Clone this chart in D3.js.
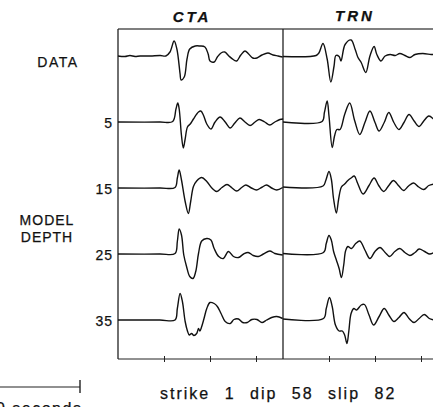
<!DOCTYPE html>
<html>
<head>
<meta charset="utf-8">
<script src="https://cdn.jsdelivr.net/npm/d3@7"></script>
<style>
  body { margin: 0; background: #fff; }
  svg { display: block; }
  text { font-family: "Liberation Sans", Arial, Helvetica, sans-serif; fill: #111; stroke: #111; stroke-width: 0.25px; }
</style>
</head>
<body>
<div id="chart"></div>
<script>
// rows and stations
var rowLabels = ["DATA", "5", "15", "25", "35"];
var stations = ["CTA", "TRN"];
var tickTimes = [5, 10, 15];   // seconds
var barSeconds = 10;

// traces: [time (s), amplitude]
var ctaData = [[0,0],[0.76,-0.05],[1.3,0.05],[1.85,-0.05],[2.4,0],[3.5,0],[4.6,0.05],[5.2,0],[5.65,0.4],[6.1,1.5],[6.4,0.7],[6.75,-1.8],[6.85,-2.4],[7.2,-2.1],[7.5,-0.3],[7.8,0.7],[8.4,1.0],[8.9,1.0],[9.45,0.9],[9.8,0.2],[10.0,-0.5],[10.45,-0.6],[10.8,-0.1],[11.2,0.3],[11.6,0.4],[12.05,0],[12.6,-0.4],[12.9,-0.5],[13.35,0.1],[13.8,0.5],[14.2,0.2],[14.65,-0.2],[15.1,-0.2],[15.65,0.1],[16.3,0.3],[16.85,0.1],[17.4,0],[17.9,-0.1]];
var cta5 = [[0,0],[4.55,0],[5.95,0.05],[6.3,1.3],[6.5,1.9],[6.65,1.3],[6.9,-1.35],[7.1,-2.6],[7.3,-1.7],[7.55,-0.5],[7.85,-0.2],[8.2,0.3],[8.75,1.0],[9.0,1.1],[9.3,0.65],[9.65,-0.2],[10.1,-0.7],[10.55,0],[11.1,0.5],[11.65,0],[12.2,-0.6],[12.7,-0.1],[13.25,0.4],[13.8,0],[14.35,-0.35],[14.9,0],[15.35,0.25],[15.95,0],[16.5,-0.3],[17.05,0],[17.6,0.25],[17.95,0.3]];
var cta15 = [[0,0],[4.55,0],[6.2,0.05],[6.45,1.0],[6.65,1.8],[6.9,0.8],[7.3,-1.35],[7.65,-2.55],[7.9,-1.35],[8.2,0.15],[8.55,0.7],[9.1,1.05],[9.65,0.65],[10.2,0],[10.75,-0.35],[11.3,0.05],[11.85,0.35],[12.4,0],[12.9,-0.3],[13.45,0.05],[13.9,0.3],[14.5,0],[15.05,-0.2],[15.6,0.05],[16.15,0.3],[16.7,0],[17.25,-0.2],[17.9,0.05]];
var cta25 = [[0,0],[4.55,0],[6.2,0.05],[6.45,1.25],[6.65,2.5],[6.9,1.9],[7.15,-0.1],[7.45,-1.25],[7.8,-2.25],[8.15,-2.45],[8.45,-1.75],[8.75,0.05],[9.1,1.3],[9.65,1.55],[10.1,1.4],[10.45,0.55],[10.95,-0.25],[11.45,-0.45],[12.0,0.25],[12.55,-0.25],[13.1,-0.35],[13.65,0],[14.15,0.15],[14.7,-0.15],[15.25,-0.25],[15.8,0],[16.5,0.3],[17.05,0.05],[17.9,-0.1]];
var cta35 = [[0,0],[4.55,0],[6.2,0],[6.45,1.15],[6.75,2.65],[7.0,1.85],[7.3,-0.15],[7.55,-1.1],[7.75,-1.5],[8.0,-1.35],[8.25,-1.55],[8.55,-1.35],[8.75,-0.85],[8.9,-1.1],[9.1,-0.65],[9.35,0.15],[9.65,1.15],[10.0,1.75],[10.45,1.65],[10.8,1.35],[11.2,0.65],[11.65,-0.15],[12.2,-0.35],[12.6,0.05],[13.1,0.1],[13.55,-0.25],[14.05,-0.25],[14.55,0.05],[15.1,0.05],[15.65,-0.25],[16.15,0],[16.7,0.25],[17.25,0.35],[17.9,0.15]];

var trnData = [[0,-0.05],[3.6,0.05],[3.9,0.3],[4.35,1.25],[4.8,-0.3],[5.2,-2.6],[5.55,-1.0],[5.75,0.05],[6.1,-0.05],[6.3,-0.5],[6.75,1.15],[7.4,1.6],[7.85,0.65],[8.15,-0.15],[8.5,-0.65],[9.0,-1.65],[9.45,0],[9.9,0.95],[10.2,0.15],[10.65,-0.5],[11.1,0],[11.65,0.15],[12.2,0.05],[12.7,0.25],[13.25,0.05],[13.8,-0.15],[14.35,0.15],[15.2,0.25],[16.1,0.15],[16.4,0.15]];
var trn5 = [[0,0],[4.25,0.05],[4.5,0.95],[4.8,2.1],[5.0,0.6],[5.35,-2.55],[5.6,-1.4],[5.85,-0.75],[6.2,-0.75],[6.7,0.75],[7.25,1.9],[7.8,0.1],[8.35,-1.25],[8.9,-0.05],[9.45,1.1],[10.0,-0.05],[10.45,-0.9],[11.0,-0.05],[11.5,0.95],[12.05,-0.05],[12.6,-0.75],[13.15,-0.05],[13.7,0.75],[14.25,0.1],[14.8,-0.45],[15.3,0.1],[15.85,0.6],[16.4,0.25]];
var trn15 = [[0,0.1],[4.35,0.2],[4.65,0.75],[5.0,1.65],[5.25,0.9],[5.5,-1.1],[5.8,-2.5],[6.05,-1.1],[6.35,0.1],[6.7,0.4],[7.05,0.75],[7.4,1.0],[7.75,1.2],[8.1,0.5],[8.7,-0.6],[9.35,0.25],[9.9,1.0],[10.4,0.25],[10.95,-0.35],[11.5,0.25],[12.0,0.75],[12.6,0.2],[13.1,-0.25],[13.65,0.2],[14.2,0.5],[14.75,0.1],[15.3,-0.15],[15.85,0.25],[16.4,0.4]];
var trn25 = [[0,0.05],[4.4,0.15],[4.7,1.05],[5.0,1.85],[5.25,1.4],[5.5,0.25],[5.8,-0.6],[6.1,-1.45],[6.35,-2.35],[6.6,-1.1],[6.8,0.3],[7.05,0.75],[7.45,0.55],[7.9,1.05],[8.35,1.3],[8.9,0.4],[9.45,-0.45],[10.0,0.25],[10.55,0.65],[11.1,0.15],[11.6,-0.25],[12.15,0.25],[12.7,0.55],[13.25,0.15],[13.8,-0.15],[14.35,0.15],[14.8,0.5],[15.4,0.25],[15.95,0],[16.4,0.15]];
var trn35 = [[0,0.1],[4.4,0.15],[4.7,1.15],[5.05,2.25],[5.35,1.35],[5.7,-0.5],[6.1,-1.1],[6.45,-1.1],[6.7,-1.5],[6.95,-2.35],[7.15,-1.15],[7.4,0.65],[7.7,1.15],[8.0,1.0],[8.5,1.5],[8.85,1.55],[9.35,0.5],[9.85,-0.5],[10.45,0.35],[11.0,1.15],[11.5,0.5],[12.05,-0.15],[12.6,0.25],[13.15,0.75],[13.7,0.15],[14.25,-0.25],[14.8,0.15],[15.35,0.55],[15.9,0.15],[16.4,0]];

var traceTable = [
    {station: "CTA", row: "DATA", values: ctaData},
    {station: "CTA", row: "5", values: cta5},
    {station: "CTA", row: "15", values: cta15},
    {station: "CTA", row: "25", values: cta25},
    {station: "CTA", row: "35", values: cta35},
    {station: "TRN", row: "DATA", values: trnData},
    {station: "TRN", row: "5", values: trn5},
    {station: "TRN", row: "15", values: trn15},
    {station: "TRN", row: "25", values: trn25},
    {station: "TRN", row: "35", values: trn35}
];

function init() {
    var width = 433, height = 407;
    var frame = {left: 118, mid: 283, right: 448, top: 29, bottom: 359};
    var pxPerSec = 9.2;
    var span = (frame.mid - frame.left) / pxPerSec;

    var svg = d3.select("#chart")
        .append("svg")
        .attr("width", width)
        .attr("height", height);

    var xScales = {
        CTA: d3.scaleLinear().domain([0, span]).range([frame.left, frame.mid]),
        TRN: d3.scaleLinear().domain([0, span]).range([frame.mid, frame.right])
    };
    var yRow = d3.scalePoint().domain(rowLabels).range([56, 320]);
    var yAmp = d3.scaleLinear().domain([-1, 1]).range([10, -10]);

    // frame
    var frameGroup = svg.append("g")
        .attr("stroke", "#222")
        .attr("fill", "none");
    frameGroup.append("line")
        .attr("x1", frame.left).attr("x2", width)
        .attr("y1", frame.top).attr("y2", frame.top)
        .attr("stroke", "#555").attr("stroke-width", 1.4);
    frameGroup.append("line")
        .attr("x1", frame.left).attr("x2", width)
        .attr("y1", frame.bottom).attr("y2", frame.bottom)
        .attr("stroke-width", 1);
    frameGroup.append("line")
        .attr("x1", frame.left).attr("x2", frame.left)
        .attr("y1", frame.top).attr("y2", frame.bottom)
        .attr("stroke-width", 1.3);
    frameGroup.append("line")
        .attr("x1", frame.mid).attr("x2", frame.mid)
        .attr("y1", frame.top).attr("y2", frame.bottom)
        .attr("stroke-width", 1.3);

    // time ticks
    stations.forEach(function(s) {
        var ax = svg.append("g")
            .attr("transform", "translate(0," + (frame.bottom - 3) + ")")
            .call(d3.axisBottom(xScales[s]).tickValues(tickTimes).tickSize(6).tickFormat(""));
        ax.select(".domain").remove();
        ax.selectAll(".tick line").attr("stroke", "#222").attr("stroke-width", 1);
    });

    // waveforms
    svg.append("g")
        .selectAll("path")
        .data(traceTable)
        .enter()
        .append("path")
        .attr("fill", "none")
        .attr("stroke", "#111")
        .attr("stroke-width", 1.4)
        .attr("stroke-linejoin", "round")
        .attr("d", function(d) {
            var x = xScales[d.station];
            var base = yRow(d.row);
            return d3.line()
                .x(function(p) { return x(p[0]); })
                .y(function(p) { return base + yAmp(p[1]); })
                .curve(d3.curveCatmullRom.alpha(0.5))(d.values);
        });

    // station titles
    svg.append("text")
        .attr("x", 192).attr("y", 22)
        .attr("text-anchor", "middle")
        .attr("font-size", 15)
        .attr("font-weight", "bold")
        .attr("font-style", "italic")
        .attr("letter-spacing", 3)
        .text("CTA");
    svg.append("text")
        .attr("x", 355).attr("y", 21)
        .attr("text-anchor", "middle")
        .attr("font-size", 15)
        .attr("font-weight", "bold")
        .attr("font-style", "italic")
        .attr("letter-spacing", 3)
        .text("TRN");

    // row labels
    svg.append("text")
        .attr("x", 58).attr("y", yRow("DATA") + 11)
        .attr("text-anchor", "middle")
        .attr("font-size", 14)
        .attr("letter-spacing", 1.5)
        .text("DATA");
    rowLabels.slice(1).forEach(function(r) {
        svg.append("text")
            .attr("x", 113).attr("y", yRow(r) + 6)
            .attr("text-anchor", "end")
            .attr("font-size", 14)
            .attr("letter-spacing", 1)
            .text(r);
    });
    svg.append("text")
        .attr("x", 47).attr("y", 225)
        .attr("text-anchor", "middle")
        .attr("font-size", 14)
        .attr("letter-spacing", 1)
        .text("MODEL");
    svg.append("text")
        .attr("x", 47).attr("y", 242)
        .attr("text-anchor", "middle")
        .attr("font-size", 14)
        .attr("letter-spacing", 1)
        .text("DEPTH");

    // mechanism
    svg.append("text")
        .attr("x", 160).attr("y", 398.5)
        .attr("font-size", 16)
        .attr("letter-spacing", 2)
        .attr("word-spacing", 8)
        .text("strike 1 dip 58 slip 82");

    // scale bar (label runs off the bottom edge, as in the original)
    var barX = d3.scaleLinear().domain([0, barSeconds]).range([80 - barSeconds * pxPerSec, 80]);
    svg.append("line")
        .attr("x1", barX(0)).attr("x2", barX(barSeconds))
        .attr("y1", 387).attr("y2", 387)
        .attr("stroke", "#222").attr("stroke-width", 1.2);
    svg.append("line")
        .attr("x1", barX(barSeconds)).attr("x2", barX(barSeconds))
        .attr("y1", 380).attr("y2", 393)
        .attr("stroke", "#222").attr("stroke-width", 1.4);
    svg.append("text")
        .attr("x", barX(barSeconds / 2)).attr("y", 414)
        .attr("text-anchor", "middle")
        .attr("font-size", 16)
        .attr("letter-spacing", 1.5)
        .text(barSeconds + " seconds");
}
window.addEventListener('load', init, false);
</script>
</body>
</html>
